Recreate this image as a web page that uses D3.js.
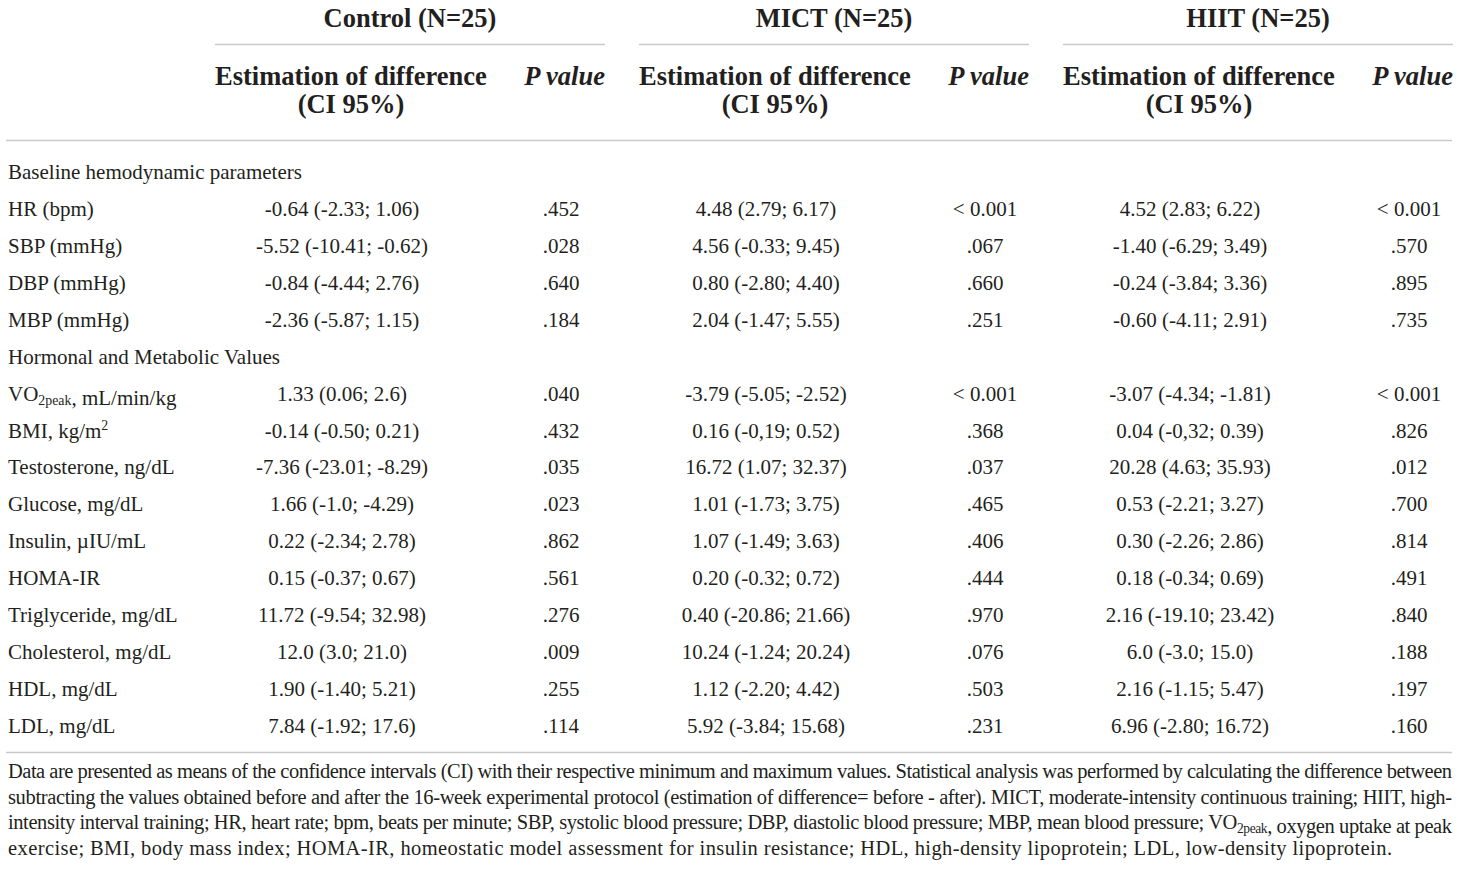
<!DOCTYPE html>
<html>
<head>
<meta charset="utf-8">
<script src="https://cdn.jsdelivr.net/npm/d3@7"></script>
<style>
  body { margin: 0; background: #fff; }
  svg text { font-family: "Liberation Serif", "Times New Roman", serif; fill: #231f20; }
</style>
</head>
<body>
<div id="chart"></div>
<script>
const width = 1460;
const height = 877;

// groups of the table
const groups = ["Control (N=25)", "MICT (N=25)", "HIIT (N=25)"];

// row labels, section headers go before rows 0 and 4
const sections = ["Baseline hemodynamic parameters", "Hormonal and Metabolic Values"];
const labels = [
  "HR (bpm)", "SBP (mmHg)", "DBP (mmHg)", "MBP (mmHg)",
  "VO_{2peak}, mL/min/kg", "BMI, kg/m^{2}", "Testosterone, ng/dL", "Glucose, mg/dL",
  "Insulin, µIU/mL", "HOMA-IR", "Triglyceride, mg/dL", "Cholesterol, mg/dL",
  "HDL, mg/dL", "LDL, mg/dL"
];

const controlEst = ["-0.64 (-2.33; 1.06)", "-5.52 (-10.41; -0.62)", "-0.84 (-4.44; 2.76)", "-2.36 (-5.87; 1.15)",
  "1.33 (0.06; 2.6)", "-0.14 (-0.50; 0.21)", "-7.36 (-23.01; -8.29)", "1.66 (-1.0; -4.29)",
  "0.22 (-2.34; 2.78)", "0.15 (-0.37; 0.67)", "11.72 (-9.54; 32.98)", "12.0 (3.0; 21.0)",
  "1.90 (-1.40; 5.21)", "7.84 (-1.92; 17.6)"];
const controlP = [".452", ".028", ".640", ".184", ".040", ".432", ".035", ".023", ".862", ".561", ".276", ".009", ".255", ".114"];

const mictEst = ["4.48 (2.79; 6.17)", "4.56 (-0.33; 9.45)", "0.80 (-2.80; 4.40)", "2.04 (-1.47; 5.55)",
  "-3.79 (-5.05; -2.52)", "0.16 (-0,19; 0.52)", "16.72 (1.07; 32.37)", "1.01 (-1.73; 3.75)",
  "1.07 (-1.49; 3.63)", "0.20 (-0.32; 0.72)", "0.40 (-20.86; 21.66)", "10.24 (-1.24; 20.24)",
  "1.12 (-2.20; 4.42)", "5.92 (-3.84; 15.68)"];
const mictP = ["< 0.001", ".067", ".660", ".251", "< 0.001", ".368", ".037", ".465", ".406", ".444", ".970", ".076", ".503", ".231"];

const hiitEst = ["4.52 (2.83; 6.22)", "-1.40 (-6.29; 3.49)", "-0.24 (-3.84; 3.36)", "-0.60 (-4.11; 2.91)",
  "-3.07 (-4.34; -1.81)", "0.04 (-0,32; 0.39)", "20.28 (4.63; 35.93)", "0.53 (-2.21; 3.27)",
  "0.30 (-2.26; 2.86)", "0.18 (-0.34; 0.69)", "2.16 (-19.10; 23.42)", "6.0 (-3.0; 15.0)",
  "2.16 (-1.15; 5.47)", "6.96 (-2.80; 16.72)"];
const hiitP = ["< 0.001", ".570", ".895", ".735", "< 0.001", ".826", ".012", ".700", ".814", ".491", ".840", ".188", ".197", ".160"];

const footnote = [
  "Data are presented as means of the confidence intervals (CI) with their respective minimum and maximum values. Statistical analysis was performed by calculating the difference between",
  "subtracting the values obtained before and after the 16-week experimental protocol (estimation of difference= before - after). MICT, moderate-intensity continuous training; HIIT, high-",
  "intensity interval training; HR, heart rate; bpm, beats per minute; SBP, systolic blood pressure; DBP, diastolic blood pressure; MBP, mean blood pressure; VO_{2peak}, oxygen uptake at peak",
  "exercise; BMI, body mass index; HOMA-IR, homeostatic model assessment for insulin resistance; HDL, high-density lipoprotein; LDL, low-density lipoprotein."
];

const ests = [controlEst, mictEst, hiitEst];
const ps = [controlP, mictP, hiitP];

let rows = [];
labels.forEach((l, i) => {
  if (i === 0) rows.push({section: sections[0]});
  if (i === 4) rows.push({section: sections[1]});
  rows.push({label: l, idx: i});
});

const svg = d3.select('#chart').append('svg')
  .attr('width', width)
  .attr('height', height);

// writes text with _{sub} and ^{sup} parts
function richText(sel, str, size) {
  const parts = str.split(/(_\{[^}]*\}|\^\{[^}]*\})/).filter(s => s.length);
  parts.forEach(p => {
    if (p.startsWith('_{')) {
      sel.append('tspan').attr('font-size', size * 0.66).attr('dy', 4).text(p.slice(2, -1));
      sel.append('tspan').attr('dy', -4).text('');
    } else if (p.startsWith('^{')) {
      sel.append('tspan').attr('font-size', size * 0.66).attr('dy', -8).text(p.slice(2, -1));
      sel.append('tspan').attr('dy', 8).text('');
    } else {
      sel.append('tspan').text(p);
    }
  });
}

const gx = d3.scalePoint().domain(groups).range([215, 1063]);
const groupW = 390;
const y = d3.scalePoint().domain(d3.range(rows.length)).range([172, 726]);

const lineColor = '#c9c9c9';
const headSize = 26.5;

// group titles
svg.selectAll('.gtitle')
  .data(groups)
  .enter()
  .append('text')
  .attr('x', d => gx(d) + groupW / 2)
  .attr('y', 27)
  .attr('text-anchor', 'middle')
  .attr('font-size', headSize)
  .attr('font-weight', 'bold')
  .text(d => d);

svg.selectAll('.gline')
  .data(groups)
  .enter()
  .append('line')
  .attr('x1', d => gx(d))
  .attr('x2', d => gx(d) + groupW)
  .attr('y1', 44.5).attr('y2', 44.5)
  .attr('stroke', lineColor).attr('stroke-width', 1.5);

// subheaders
groups.forEach(g => {
  svg.append('text')
    .attr('x', gx(g)).attr('y', 85)
    .attr('font-size', headSize).attr('font-weight', 'bold')
    .text('Estimation of difference');
  svg.append('text')
    .attr('x', gx(g) + 136).attr('y', 113)
    .attr('text-anchor', 'middle')
    .attr('font-size', headSize).attr('font-weight', 'bold')
    .text('(CI 95%)');
  svg.append('text')
    .attr('x', gx(g) + groupW).attr('y', 85)
    .attr('text-anchor', 'end')
    .attr('font-size', headSize).attr('font-weight', 'bold').attr('font-style', 'italic')
    .text('P value');
});

svg.append('line')
  .attr('x1', 6).attr('x2', 1452)
  .attr('y1', 140.5).attr('y2', 140.5)
  .attr('stroke', lineColor).attr('stroke-width', 1.5);

// row labels
const bodySize = 21;
rows.forEach((r, i) => {
  const t = svg.append('text')
    .attr('x', 8)
    .attr('y', y(i) + 7)
    .attr('font-size', bodySize);
  richText(t, r.section ? r.section : r.label, bodySize);
});

// cells
groups.forEach((g, gi) => {
  const dataRows = rows.map((r, i) => ({r: r, i: i})).filter(d => !d.r.section);
  svg.selectAll('.est' + gi)
    .data(dataRows)
    .enter()
    .append('text')
    .attr('x', gx(g) + 127)
    .attr('y', d => y(d.i) + 7)
    .attr('text-anchor', 'middle')
    .attr('font-size', bodySize)
    .text(d => ests[gi][d.r.idx]);
  svg.selectAll('.p' + gi)
    .data(dataRows)
    .enter()
    .append('text')
    .attr('x', gx(g) + 346)
    .attr('y', d => y(d.i) + 7)
    .attr('text-anchor', 'middle')
    .attr('font-size', bodySize)
    .text(d => ps[gi][d.r.idx]);
});

svg.append('line')
  .attr('x1', 6).attr('x2', 1452)
  .attr('y1', 752.5).attr('y2', 752.5)
  .attr('stroke', lineColor).attr('stroke-width', 1.5);

// footnote, first three lines justified
const footSize = 20.5;
const fWidths = [1444, 1444, 1444, 1384];
const fy = d3.scalePoint().domain(d3.range(footnote.length)).range([778, 855]);
footnote.forEach((f, i) => {
  const t = svg.append('text')
    .attr('x', 8)
    .attr('y', fy(i))
    .attr('font-size', footSize)
    .attr('textLength', fWidths[i])
    .attr('lengthAdjust', 'spacing');
  richText(t, f, footSize);
});
</script>
</body>
</html>
